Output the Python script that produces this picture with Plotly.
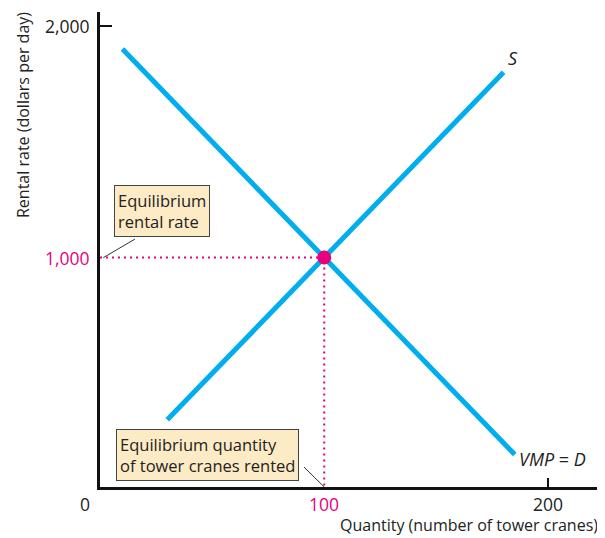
import plotly.graph_objects as go

# supply / demand endpoints (quantity, rental rate)
demanda_x = [10, 185]
demanda_y = [1900, 150]
oferta_x = [30, 180]
oferta_y = [300, 1800]
eq_x = [100]
eq_y = [1000]

azul = '#00aeef'
magenta = '#e6007e'
escuro = '#222'
fonte = 'Open Sans'

fig = go.Figure()
fig.add_trace(go.Scatter(x=demanda_x, y=demanda_y, mode='lines',
                         line=dict(color=azul, width=5), hoverinfo='skip'))
fig.add_trace(go.Scatter(x=oferta_x, y=oferta_y, mode='lines',
                         line=dict(color=azul, width=5), hoverinfo='skip'))

# dotted guides to the axes
fig.add_trace(go.Scatter(x=[0, eq_x[0], eq_x[0]], y=[eq_y[0], eq_y[0], 10], mode='lines',
                         line=dict(color=magenta, width=2, dash='2px,4px'), hoverinfo='skip'))
fig.add_trace(go.Scatter(x=eq_x, y=eq_y, mode='markers',
                         marker=dict(color=magenta, size=14), hoverinfo='skip'))

# leader lines for the callouts
fig.add_shape(type='line', x0=15.6, y0=1080, x1=1.5, y1=1000, line=dict(color='#333', width=1))
fig.add_shape(type='line', x0=91, y0=96, x1=100, y1=10, line=dict(color='#333', width=1))

caixa = dict(bgcolor='#fdebc6', bordercolor='#444', borderwidth=1, borderpad=3,
             align='left', showarrow=False, font=dict(family=fonte, size=16.5, color=escuro))
fig.add_annotation(x=27.5, y=1201, text='Equilibrium<br>rental rate', **caixa)
fig.add_annotation(x=48, y=150, text='Equilibrium quantity<br>of tower cranes rented', **caixa)

# curve labels
fig.add_annotation(x=181, y=1800, text='<i>S</i>', showarrow=False, xanchor='left', yanchor='bottom',
                   font=dict(family=fonte, size=18, color=escuro))
fig.add_annotation(x=186, y=130, text='<i>VMP</i> = <i>D</i>', showarrow=False, xanchor='left',
                   font=dict(family=fonte, size=18, color=escuro))

# tick labels
def rotulo(texto, cor, **kw):
    fig.add_annotation(text=texto, showarrow=False, font=dict(family=fonte, size=17.5, color=cor), **kw)

rotulo('2,000', escuro, x=0, xref='paper', y=2000, yref='y', xanchor='right', xshift=-8)
rotulo('1,000', magenta, x=0, xref='paper', y=1000, yref='y', xanchor='right', xshift=-8)
rotulo('0', escuro, x=0, xref='paper', y=0, yref='paper', xanchor='center', yanchor='top', xshift=-15, yshift=-3)
rotulo('100', magenta, x=100, xref='x', y=0, yref='paper', yanchor='top', yshift=-3)
rotulo('200', escuro, x=200, xref='x', y=0, yref='paper', yanchor='top', yshift=-3)

# axis titles
fig.add_annotation(x=0, y=1, xref='paper', yref='paper', text='Rental rate (dollars per day)',
                   textangle=-90, showarrow=False, xanchor='center', yanchor='top',
                   xshift=-77, yshift=2, font=dict(family=fonte, size=16, color=escuro))
fig.add_annotation(x=1, y=0, xref='paper', yref='paper', text='Quantity (number of tower cranes)',
                   showarrow=False, xanchor='right', yanchor='top', yshift=-25,
                   font=dict(family=fonte, size=16, color=escuro))

fig.update_xaxes(range=[0, 223], showgrid=False, zeroline=False, showline=True,
                 linecolor='#111', linewidth=2.5, tickvals=[200], ticks='inside', ticklen=9,
                 tickwidth=1.5, tickcolor='#111', showticklabels=False)
fig.update_yaxes(range=[10, 2060], showgrid=False, zeroline=False, showline=True,
                 linecolor='#111', linewidth=2.5, tickvals=[2000], ticks='inside', ticklen=12,
                 tickwidth=1.5, tickcolor='#111', showticklabels=False)

fig.update_layout(width=597, height=530, showlegend=False,
                  paper_bgcolor='white', plot_bgcolor='white',
                  margin=dict(l=92, r=5, t=4, b=51))
fig.write_html("out.html")
